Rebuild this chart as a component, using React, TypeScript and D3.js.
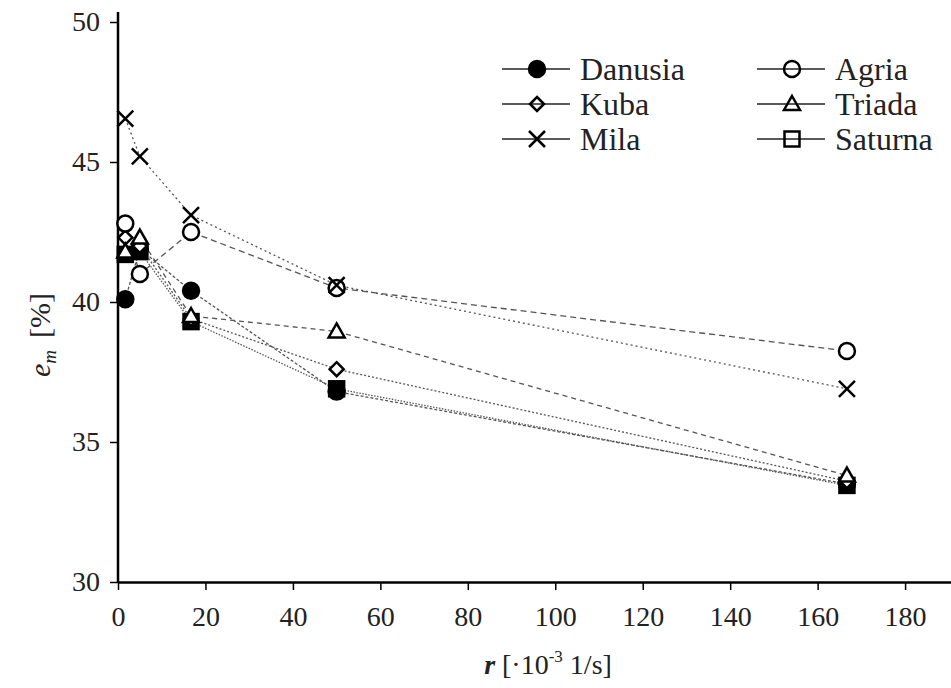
import React, { useEffect, useRef } from 'react'
import * as d3 from 'd3'

// strain rate values [·10^-3 1/s]
const rates = [1.67, 5, 16.7, 50, 166.7]

const danusia = [40.1, 41.9, 40.4, 36.8, 33.5]
const agria = [42.8, 41.0, 42.5, 40.5, 38.25]
const kuba = [42.3, 42.0, 39.4, 37.6, 33.6]
const triada = [41.8, 42.3, 39.5, 38.95, 33.8]
const mila = [46.55, 45.2, 43.1, 40.6, 36.9]
const saturna = [41.7, 41.8, 39.3, 36.9, 33.45]

const xTicks = [0, 20, 40, 60, 80, 100, 120, 140, 160, 180]
const yTicks = [30, 35, 40, 45, 50]

const series = [
    { name: 'Danusia', values: danusia, marker: 'circle', filled: true, dash: '3,2' },
    { name: 'Saturna', values: saturna, marker: 'square', filled: true, dash: '1.5,1.5' },
    { name: 'Kuba', values: kuba, marker: 'diamond', filled: false, dash: '2,2' },
    { name: 'Triada', values: triada, marker: 'triangle', filled: false, dash: '5,4' },
    { name: 'Agria', values: agria, marker: 'circle', filled: false, dash: '6,4' },
    { name: 'Mila', values: mila, marker: 'cross', filled: false, dash: '2,3' },
]

const legendCols = [['Danusia', 'Kuba', 'Mila'], ['Agria', 'Triada', 'Saturna']]

const FONT = "'Liberation Serif', 'Times New Roman', serif"

const drawMarker = (g, type, cx, cy, fill) => {
    if (type === 'circle') {
        g.append('circle').attr('cx', cx).attr('cy', cy).attr('r', 8)
            .attr('fill', fill).attr('stroke', '#000').attr('stroke-width', 2.5)
    } else if (type === 'square') {
        g.append('rect').attr('x', cx - 7.5).attr('y', cy - 7.5).attr('width', 15).attr('height', 15)
            .attr('fill', fill).attr('stroke', '#000').attr('stroke-width', 2.5)
    } else if (type === 'diamond') {
        g.append('path').attr('d', `M${cx},${cy - 7}L${cx + 7},${cy}L${cx},${cy + 7}L${cx - 7},${cy}Z`)
            .attr('fill', fill).attr('stroke', '#000').attr('stroke-width', 2.5)
    } else if (type === 'triangle') {
        g.append('path').attr('d', `M${cx},${cy - 8}L${cx + 8},${cy + 6}L${cx - 8},${cy + 6}Z`)
            .attr('fill', fill).attr('stroke', '#000').attr('stroke-width', 2.5)
    } else if (type === 'cross') {
        g.append('path').attr('d', `M${cx - 8},${cy - 8}L${cx + 8},${cy + 8}M${cx + 8},${cy - 8}L${cx - 8},${cy + 8}`)
            .attr('stroke', '#000').attr('stroke-width', 2.5).attr('fill', 'none')
    }
}

export const App = () => {
    const ref = useRef(null)

    useEffect(() => {
        const width = 951, height = 688

        const x = d3.scaleLinear([0, 190.5], [118, 951])
        const y = d3.scaleLinear([30, 50], [582, 22])

        const chart = d3.select(ref.current)
        chart.selectAll('*').remove()
        chart.attr('width', width).attr('height', height)

        // x axis
        chart.append('g')
            .attr('transform', `translate(0, ${y(30)})`)
            .call(d3.axisBottom(x).tickValues(xTicks).tickSize(8).tickPadding(16).tickSizeOuter(0))
            .call(g => g.select('.domain').attr('stroke-width', 2.5))
            .call(g => g.selectAll('.tick line').attr('stroke-width', 1.5))
            .call(g => g.selectAll('text').style('font-family', FONT).style('font-size', '28px').attr('fill', '#222'))

        // y axis
        chart.append('g')
            .attr('transform', `translate(${x(0)}, 0)`)
            .call(d3.axisLeft(y).tickValues(yTicks).tickSize(8).tickPadding(10).tickSizeOuter(0))
            .call(g => g.select('.domain').attr('d', `M0,${y(50) - 10}V${y(30)}`).attr('stroke-width', 2.5))
            .call(g => g.selectAll('.tick line').attr('stroke-width', 1.5))
            .call(g => g.selectAll('text').style('font-family', FONT).style('font-size', '28px').attr('fill', '#222'))

        const line = d3.line()
            .x((d, i) => x(rates[i]))
            .y(d => y(d))

        // series lines
        series.forEach(s => {
            chart.append('path')
                .attr('fill', 'none')
                .attr('stroke', '#555')
                .attr('stroke-width', 1.3)
                .attr('stroke-dasharray', s.dash)
                .attr('d', line(s.values))
        })

        // markers
        series.forEach(s => {
            const g = chart.append('g')
            s.values.forEach((v, i) => drawMarker(g, s.marker, x(rates[i]), y(v), s.filled ? '#000' : '#fff'))
        })

        // legend
        const legend = chart.append('g').style('font-family', FONT).style('font-size', '32px')
        const colX = [502, 757]
        legendCols.forEach((col, ci) => {
            col.forEach((name, ri) => {
                const s = series.find(d => d.name === name)
                const ly = 69 + ri * 35
                const lx = colX[ci]
                legend.append('line').attr('x1', lx).attr('x2', lx + 68).attr('y1', ly).attr('y2', ly)
                    .attr('stroke', '#222').attr('stroke-width', 1.5)
                drawMarker(legend, s.marker, lx + 35, ly, name === 'Danusia' ? '#000' : 'none')
                legend.append('text').attr('x', lx + 78).attr('y', ly).attr('dy', '0.35em')
                    .attr('fill', '#222').text(name)
            })
        })

        // x label
        const xl = chart.append('text')
            .attr('x', 548).attr('y', 674)
            .attr('text-anchor', 'middle')
            .style('font-family', FONT).style('font-size', '28px').attr('fill', '#222')
        xl.append('tspan').attr('font-style', 'italic').attr('font-weight', 'bold').text('r')
        xl.append('tspan').text(' [·10')
        xl.append('tspan').style('font-size', '17px').attr('dy', -12).text('-3')
        xl.append('tspan').attr('dy', 12).text(' 1/s]')

        // y label
        const yl = chart.append('text')
            .attr('transform', 'translate(50, 335) rotate(-90)')
            .attr('text-anchor', 'middle')
            .style('font-family', FONT).style('font-size', '30px').attr('fill', '#222')
        yl.append('tspan').attr('font-style', 'italic').text('e')
        yl.append('tspan').attr('font-style', 'italic').style('font-size', '19px').attr('dy', 6).text('m')
        yl.append('tspan').attr('dy', -6).attr('dx', 12).text('[%]')
    }, [])

    return <svg ref={ref} style={{ display: 'block', position: 'absolute', left: 0, top: 0 }} width='951' height='688'></svg>
}

export default App
